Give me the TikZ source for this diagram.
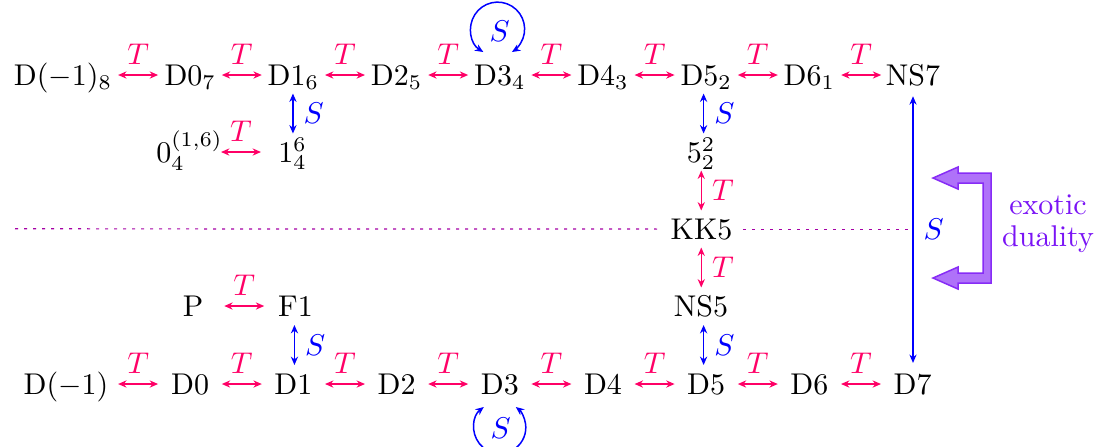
\documentclass[tikz,border=0pt]{standalone}
\usetikzlibrary{calc,arrows.meta}
\definecolor{tcol}{RGB}{255,0,102}
\definecolor{scol}{RGB}{0,0,255}
\definecolor{exo}{RGB}{122,20,245}
\definecolor{dotc}{RGB}{165,0,165}
\newcommand\hTarr[3][0]{\draw[tarr] ($(#2.base)!.5!(#3.base)+(#1-20,-10)$) -- node[above,tlab]{$T$} ($(#2.base)!.5!(#3.base)+(#1+20,-10)$);}
\newcommand\vArr[4]{\draw[#1arr] ($(#2.base)!.5!(#3.base)+(0,-30)$) -- node[right,#1lab]{$#4$} ($(#2.base)!.5!(#3.base)+(0,10)$);}
\begin{document}
\begin{tikzpicture}[x=0.3333pt,y=-0.3333pt,
  >={Stealth[length=2.8pt,width=2.4pt]},
  lbl/.style={anchor=base, inner sep=3.333pt},
  tarr/.style={tcol, line width=0.5pt, <->},
  sarr/.style={scol, line width=0.5pt, <->},
  longarr/.style={scol, line width=0.35pt, <->},
  tlab/.style={text=tcol},
  slab/.style={text=scol},
  dotline/.style={dotc, line width=0.4pt, dash pattern=on 1pt off 2pt}]
\useasboundingbox (0,0) rectangle (1101,446);
% top row
\node[lbl] (dm8) at (63,85) {D$(-1)_8$};
\node[lbl] (d07) at (190.2,85) {D$0_7$};
\node[lbl] (d16) at (293.4,85) {D$1_6$};
\node[lbl] (d25) at (396.6,85) {D$2_5$};
\node[lbl] (d34) at (499.8,85) {D$3_4$};
\node[lbl] (d43) at (603,85) {D$4_3$};
\node[lbl] (d52) at (706.2,85) {D$5_2$};
\node[lbl] (d61) at (809.4,85) {D$6_1$};
\node[lbl] (ns7) at (913,85) {NS7};
% second row
\node[lbl] (o4) at (189.5,162) {$0_4^{(1,6)}$};
\node[lbl] (one4) at (292.5,162) {$1_4^6$};
\node[lbl] (f52) at (701,162) {$5_2^2$};
% middle
\node[lbl] (kk5) at (701.5,239) {KK5};
% fourth row
\node[lbl] (p) at (193,316) {P};
\node[lbl] (f1) at (295.5,316) {F1};
\node[lbl] (ns5) at (701,316) {NS5};
% bottom row
\node[lbl] (dm1) at (66,394) {D$(-1)$};
\node[lbl] (d0) at (190.2,394) {D0};
\node[lbl] (d1) at (293.4,394) {D1};
\node[lbl] (d2) at (396.6,394) {D2};
\node[lbl] (d3) at (499.8,394) {D3};
\node[lbl] (d4) at (603,394) {D4};
\node[lbl] (d5) at (706.2,394) {D5};
\node[lbl] (d6) at (809.4,394) {D6};
\node[lbl] (d7) at (912.6,394) {D7};
% T arrows, top row
\hTarr[11.5]{dm8}{d07}
\hTarr{d07}{d16}
\hTarr{d16}{d25}
\hTarr{d25}{d34}
\hTarr{d34}{d43}
\hTarr{d43}{d52}
\hTarr{d52}{d61}
\hTarr{d61}{ns7}
% T arrows, bottom row
\hTarr[10]{dm1}{d0}
\hTarr{d0}{d1}
\hTarr{d1}{d2}
\hTarr{d2}{d3}
\hTarr{d3}{d4}
\hTarr{d4}{d5}
\hTarr{d5}{d6}
\hTarr{d6}{d7}
% other T arrows
\hTarr{o4}{one4}
\hTarr{p}{f1}
% vertical arrows
\vArr{s}{d16}{one4}{S}
\vArr{s}{f1}{d1}{S}
\vArr{s}{d52}{f52}{S}
\vArr{t}{f52}{kk5}{T}
\vArr{t}{kk5}{ns5}{T}
\vArr{s}{ns5}{d5}{S}
% long S arrow
\draw[longarr] (ns7.south) -- node[right,slab]{$S$} (ns7.south |- d7.north);
% S loops
\draw[sarr] ([shift={(-16.5,-33)}]d34.base) arc[start angle=122, end angle=418, radius=27];
\node[slab] (sl1) at ([shift={(0,-54)}]d34.base) {$S$};
\draw[sarr] ([shift={(-16,13)}]d3.base) arc[start angle=-128, end angle=-412, radius=26];
\node[slab] (sl2) at ([shift={(1,34)}]d3.base) {$S$};
% dotted line
\coordinate (dl) at (15,228.8);
\draw[dotline] (dl) -- (kk5.west);
\draw[dotline] (kk5.east) -- (kk5.east -| ns7.south);
% exotic duality bracket
\filldraw[fill=exo!60, draw=exo!90, line width=0.5pt]
  (933,178) -- (958,167) -- (958,173) -- (991,173) -- (991,283) -- (958,283)
  -- (958,289) -- (933,278) -- (958,267) -- (958,273) -- (983,273) -- (983,183)
  -- (958,183) -- (958,189) -- cycle;
\node[text=exo, align=center, font=\fontsize{10}{10.6}\selectfont] (exl) at (1048,224) {exotic\\duality};
\end{tikzpicture}
\end{document}
